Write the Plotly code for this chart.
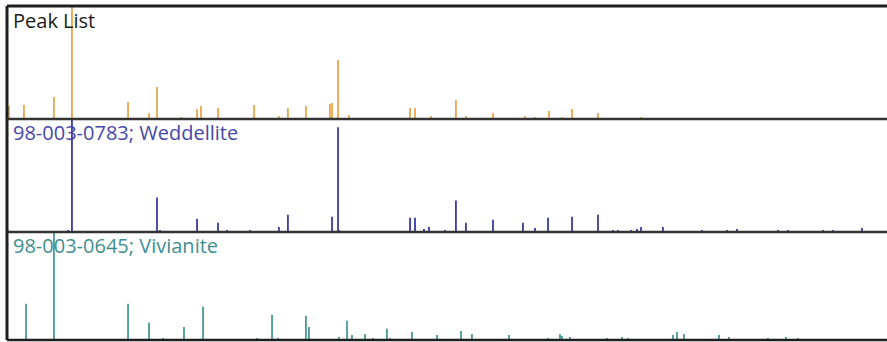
import plotly.graph_objects as go

# ---------------- data (2-theta in degrees, relative intensity %) ----------------
peak_pos = [10.13, 11.13, 13.13, 14.33, 18.07, 19.47, 20.0, 21.6, 22.67, 22.93, 24.07,
            26.47, 28.13, 28.73, 29.93, 31.53, 31.67, 32.07, 32.8, 36.87, 37.2, 38.27,
            39.93, 40.6, 42.4, 44.53, 45.2, 46.13, 47.0, 47.67, 49.4, 52.27, 53.8]
peak_int = [11.5, 12.4, 19.5, 100, 15, 5.3, 28.3, 1.8, 8.8, 11.5, 9.7,
            12.4, 2.7, 9.7, 11.5, 13.3, 14.2, 52.2, 3.5, 9.7, 9.7, 2.7,
            16.8, 2.7, 5.3, 2.7, 1.8, 7.1, 1.8, 8.8, 5.3, 1.8, 0.9]

wedd_pos = [10.05, 14.07, 14.33, 20.0, 20.2, 22.67, 24.07, 24.67, 26.2, 28.13, 28.73,
            31.67, 32.07, 32.13, 36.87, 37.2, 37.8, 38.13, 39.2, 39.93, 40.6, 42.4,
            44.4, 45.2, 46.07, 47.67, 49.4, 50.4, 50.73, 51.6, 52.0, 52.27, 53.73,
            56.33, 58.0, 58.67, 61.4, 62.07, 64.4, 65.07, 67.0]
wedd_int = [1.8, 1.8, 100, 30.6, 1.8, 11.7, 8.1, 1.8, 1.8, 4.5, 15.3,
            13.5, 92.8, 1.8, 12.6, 12.6, 2.7, 4.5, 1.8, 27.9, 8.1, 10.8,
            8.1, 3.6, 12.6, 13.5, 15.3, 1.8, 1.8, 1.8, 2.7, 4.5, 4.5,
            1.8, 1.8, 2.7, 1.8, 1.8, 1.8, 1.8, 3.6]

viv_pos = [11.27, 13.13, 18.07, 19.47, 20.4, 21.8, 23.07, 24.53, 26.67, 27.67, 28.07,
           29.93, 30.13, 30.8, 32.13, 32.67, 33.0, 33.87, 34.4, 35.33, 35.53, 37.0,
           38.67, 40.27, 41.0, 43.47, 46.07, 46.87, 47.0, 47.53, 50.0, 51.0, 51.4,
           54.4, 54.67, 55.13, 57.47, 58.13, 59.53, 60.73, 61.93, 62.73, 65.2, 66.0]
viv_int = [33.6, 100, 33.6, 15.9, 1.9, 12.1, 30.8, 0.9, 1.9, 23.4, 1.9,
           22.4, 12.1, 0.9, 2.8, 17.8, 4.7, 5.6, 1.9, 10.3, 1.9, 7.5,
           4.7, 8.4, 5.6, 4.7, 1.9, 5.6, 3.7, 2.8, 1.9, 2.8, 1.9,
           4.7, 7.5, 5.6, 4.7, 2.8, 0.9, 1.9, 2.8, 1.9, 0.9, 0.9]

labels = ["Peak List", "98-003-0783; Weddellite", "98-003-0645; Vivianite"]
colors = ["#EBA64E", "#3A3AA2", "#4A9898"]
text_colors = ["#1a1a1a", "#4646A8", "#3F8F8F"]

X_RANGE = [10, 68.67]

# ---------------- figure ----------------
fig = go.Figure()


def sticks(pos, inten):
    xs, ys = [], []
    for p, v in zip(pos, inten):
        xs += [p, p, None]
        ys += [0, v, None]
    return xs, ys


series = [(peak_pos, peak_int), (wedd_pos, wedd_int), (viv_pos, viv_int)]
yaxes = ["y", "y2", "y3"]
for (pos, inten), col, ya in zip(series, colors, yaxes):
    xs, ys = sticks(pos, inten)
    fig.add_trace(go.Scatter(x=xs, y=ys, mode="lines", yaxis=ya,
                             line=dict(color=col, width=1.8),
                             hoverinfo="skip", showlegend=False))

b1 = 0.6617
b2 = 0.3234
ax_common = dict(showgrid=False, zeroline=False, showticklabels=False,
                 ticks="", showline=False, range=[0, 100], fixedrange=True)
fig.update_layout(
    width=887, height=342,
    margin=dict(l=7, r=0, t=6, b=2),
    paper_bgcolor="white", plot_bgcolor="white",
    xaxis=dict(range=X_RANGE, showgrid=False, zeroline=False, showticklabels=False,
               ticks="", showline=False),
    yaxis=dict(domain=[b1, 1], **ax_common),
    yaxis2=dict(domain=[b2, b1], **ax_common),
    yaxis3=dict(domain=[0, b2], **ax_common),
)

# borders and separators
line_col = "#1e1e1e"
shapes = [
    dict(type="line", xref="paper", yref="paper", x0=0, x1=1, y0=1, y1=1,
         line=dict(color=line_col, width=3)),
    dict(type="line", xref="paper", yref="paper", x0=0, x1=0, y0=0, y1=1,
         line=dict(color=line_col, width=3)),
    dict(type="line", xref="paper", yref="paper", x0=0, x1=1, y0=b1, y1=b1,
         line=dict(color="#333333", width=2.5)),
    dict(type="line", xref="paper", yref="paper", x0=0, x1=1, y0=b2, y1=b2,
         line=dict(color="#333333", width=2.5)),
    dict(type="line", xref="paper", yref="paper", x0=0, x1=1, y0=0, y1=0,
         line=dict(color=line_col, width=2.5)),
]
fig.update_layout(shapes=shapes)

label_y = [0.958, 0.6198, 0.2844]
for txt, tc, yy in zip(labels, text_colors, label_y):
    fig.add_annotation(text=txt, xref="paper", yref="paper", x=0, y=yy,
                       xanchor="left", yanchor="middle", xshift=4, showarrow=False,
                       font=dict(family="Open Sans", size=20, color=tc))

fig.write_html("out.html",
               config={"displayModeBar": False},
               post_script="document.body.style.margin='0';"
                           "document.body.style.overflow='hidden';")
